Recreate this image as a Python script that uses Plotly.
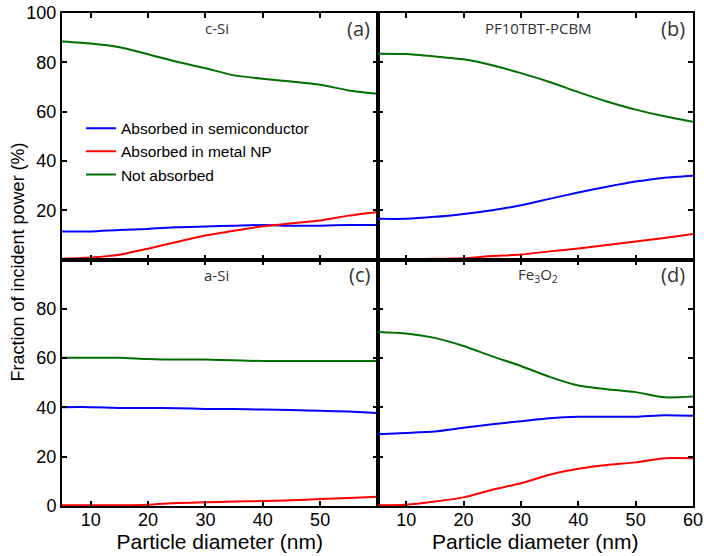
import plotly.graph_objects as go
from plotly.subplots import make_subplots

diameter = [5, 10, 15, 20, 25, 30, 35, 40, 45, 50, 55, 60]

# (a) c-Si
a_semi = [11.4, 11.4, 12.0, 12.4, 13.1, 13.4, 13.7, 14.0, 13.7, 13.7, 14.0, 14.0]
a_metal = [0.3, 0.8, 1.9, 4.4, 7.1, 9.7, 11.7, 13.5, 14.7, 15.8, 17.8, 19.3]
a_notabs = [88.4, 87.6, 86.1, 83.3, 80.2, 77.6, 74.7, 73.3, 72.2, 70.9, 68.6, 67.2]

# (b) PF10TBT-PCBM
b_semi = [16.5, 16.5, 17.3, 18.5, 20.0, 22.0, 24.6, 27.2, 29.5, 31.6, 33.2, 34.0]
b_metal = [0.0, 0.1, 0.3, 0.5, 1.4, 2.0, 3.3, 4.5, 5.9, 7.3, 8.7, 10.3]
b_notabs = [83.5, 83.4, 82.4, 81.2, 78.8, 75.6, 72.0, 67.9, 64.1, 60.8, 58.1, 55.9]

# (c) a-Si
c_semi = [40.1, 40.1, 39.8, 39.8, 39.7, 39.4, 39.4, 39.1, 38.9, 38.6, 38.3, 37.7]
c_metal = [0.3, 0.3, 0.3, 0.5, 1.2, 1.5, 1.8, 2.0, 2.3, 2.8, 3.2, 3.8]
c_notabs = [60.1, 60.1, 60.1, 59.6, 59.4, 59.4, 59.1, 58.8, 58.8, 58.8, 58.8, 58.8]

# (d) Fe3O2
d_semi = [29.1, 29.6, 30.2, 31.7, 33.2, 34.4, 35.6, 36.2, 36.2, 36.2, 36.8, 36.6]
d_metal = [0.3, 0.5, 1.8, 3.5, 6.6, 9.2, 12.7, 15.1, 16.6, 17.7, 19.4, 19.4]
d_notabs = [70.6, 70.0, 68.2, 64.9, 60.7, 56.8, 52.4, 48.9, 47.4, 46.2, 44.1, 44.4]

series_names = ["Absorbed in semiconductor", "Absorbed in metal NP", "Not absorbed"]
colors = ["#0000ff", "#ff0000", "#006e00"]

panel_titles = ["c-Si", "PF10TBT-PCBM", "a-Si", "Fe<sub>3</sub>O<sub>2</sub>"]
panel_letters = ["(a)", "(b)", "(c)", "(d)"]

x_ticks_bl = [10, 20, 30, 40, 50]
x_ticks_br = [10, 20, 30, 40, 50, 60]
y_ticks_top = [20, 40, 60, 80, 100]
y_ticks_bottom = [0, 20, 40, 60, 80]

panels = [
    (1, 1, [a_semi, a_metal, a_notabs]),
    (1, 2, [b_semi, b_metal, b_notabs]),
    (2, 1, [c_semi, c_metal, c_notabs]),
    (2, 2, [d_semi, d_metal, d_notabs]),
]

fig = make_subplots(rows=2, cols=2, horizontal_spacing=0, vertical_spacing=0)

for idx, (r, c, data) in enumerate(panels):
    for s, (name, col, ys) in enumerate(zip(series_names, colors, data)):
        fig.add_trace(
            go.Scatter(
                x=diameter, y=ys, mode="lines", name=name,
                line=dict(color=col, width=2, shape="spline", smoothing=0.6),
                showlegend=(idx == 0),
            ),
            row=r, col=c,
        )

axis_common = dict(
    showline=True, linecolor="black", linewidth=2, mirror="ticks",
    ticks="inside", ticklen=5, tickwidth=1.5, tickcolor="black",
    showgrid=False, zeroline=False, automargin=False,
    tickfont=dict(family="Liberation Sans, Arial", size=18, color="black"),
)

for idx, (r, c, _) in enumerate(panels):
    xk = dict(axis_common, range=[5, 60])
    yk = dict(axis_common, range=[0, 100])
    if r == 1:
        xk.update(tickvals=x_ticks_br, showticklabels=False)
        yk.update(tickvals=y_ticks_top)
    else:
        xk.update(tickvals=(x_ticks_bl if c == 1 else x_ticks_br), showticklabels=True,
                  ticklabelstandoff=-4,
                  title=dict(text="Particle diameter (nm)",
                             font=dict(family="Liberation Sans, Arial", size=21, color="black"),
                             standoff=2))
        yk.update(tickvals=y_ticks_bottom)
    if c == 2:
        yk.update(showticklabels=False)
    fig.update_xaxes(row=r, col=c, **xk)
    fig.update_yaxes(row=r, col=c, **yk)

fig.add_annotation(
    text="Fraction of incident power (%)", xref="paper", yref="paper",
    x=-0.0705, y=0.495, textangle=-90, showarrow=False, xanchor="center", yanchor="middle",
    font=dict(family="Liberation Sans, Arial", size=18, color="black"),
)

# panel annotations
domain_x = [(0.0, 0.5), (0.5, 1.0)]
domain_y = [(0.5, 1.0), (0.0, 0.5)]
for idx, (r, c, _) in enumerate(panels):
    x0, x1 = domain_x[c - 1]
    y0, y1 = domain_y[r - 1]
    fig.add_annotation(
        text=panel_titles[idx], xref="paper", yref="paper",
        x=x0 + (x1 - x0) * (0.49 if c == 1 else 0.51), y=y1 - 0.031,
        showarrow=False, xanchor="center", yanchor="middle",
        font=dict(family="Open Sans", size=15, color="#333333"),
    )
    fig.add_annotation(
        text=panel_letters[idx], xref="paper", yref="paper",
        x=x1 - 0.009, y=y1 - 0.031,
        showarrow=False, xanchor="right", yanchor="middle",
        font=dict(family="Open Sans", size=20, color="#333333"),
    )

fig.update_layout(
    width=704, height=556,
    margin=dict(l=62, r=11, t=13, b=50, autoexpand=False),
    paper_bgcolor="white", plot_bgcolor="white",
    legend=dict(
        x=0.03, y=0.80, xanchor="left", yanchor="top",
        bgcolor="rgba(0,0,0,0)", borderwidth=0,
        font=dict(family="Liberation Sans, Arial", size=15.5, color="black"),
        tracegroupgap=0,
    ),
)

fig.write_html("out.html", config={"displayModeBar": False},
               post_script="document.body.style.margin='0';document.body.style.overflow='hidden';")
